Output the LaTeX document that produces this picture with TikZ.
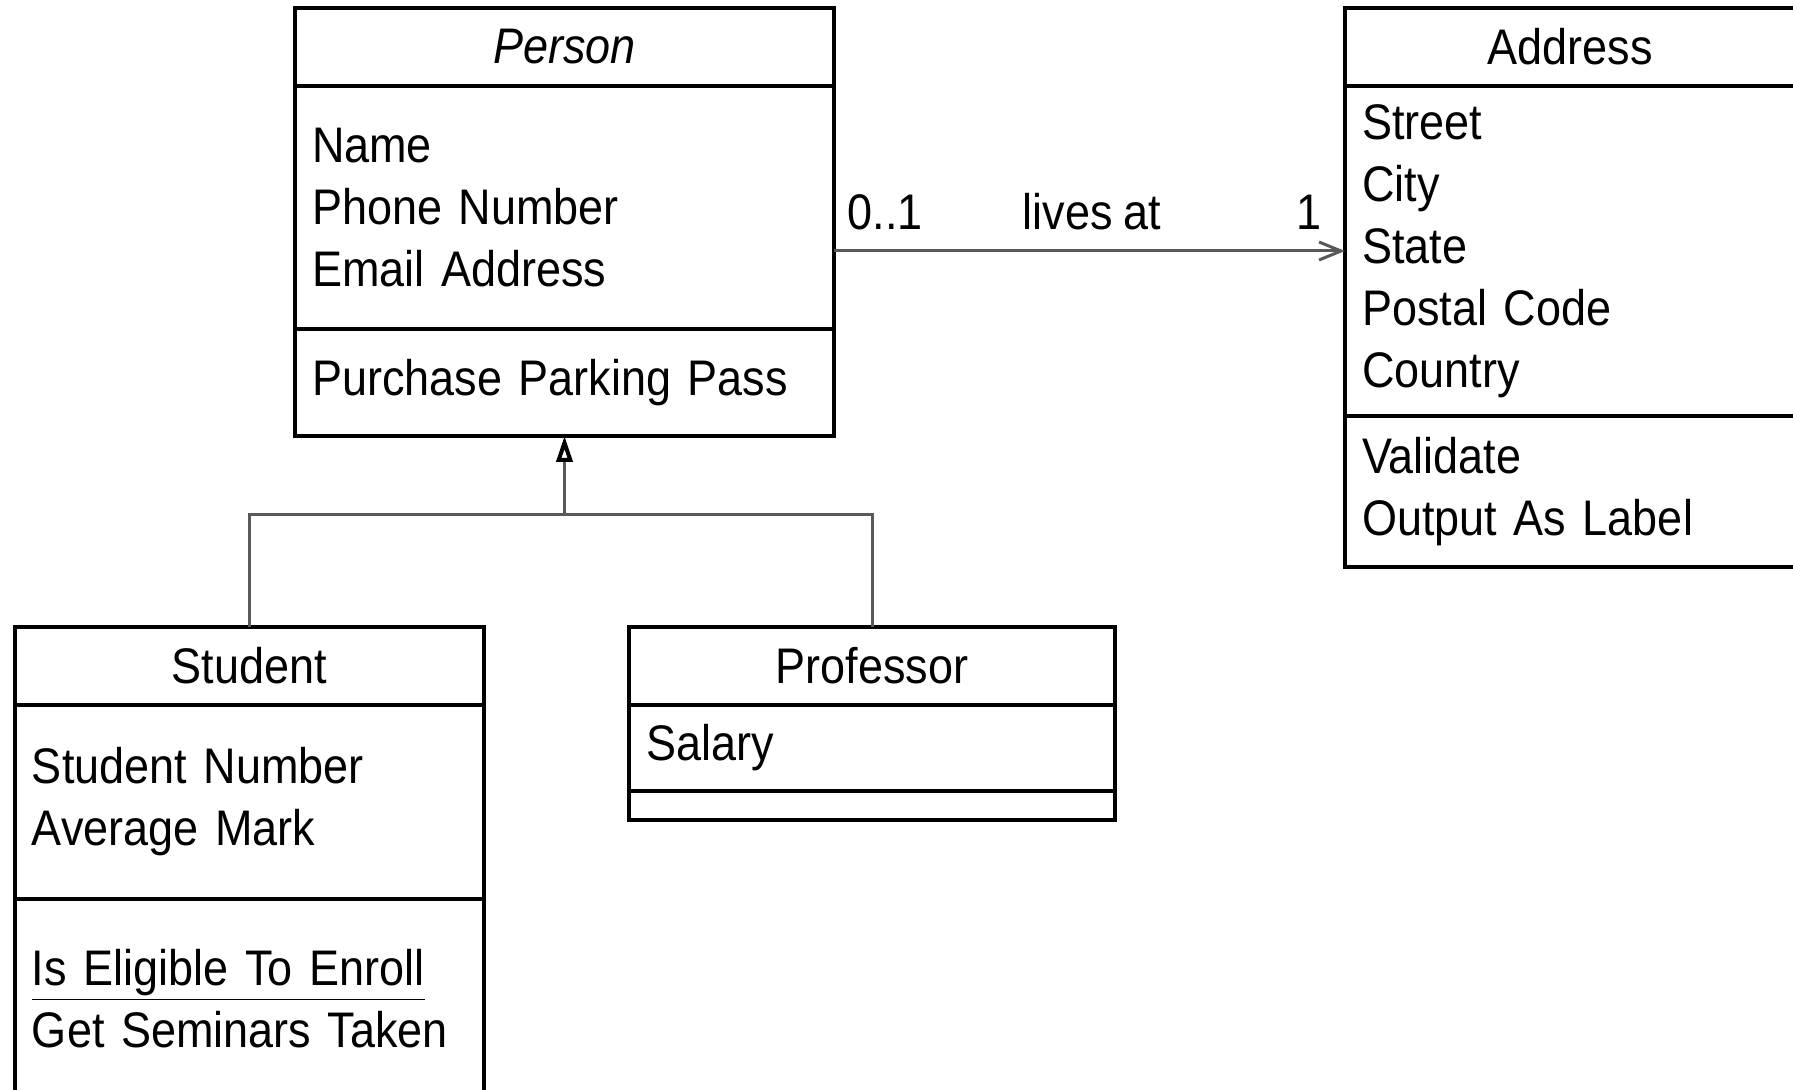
\documentclass[tikz,border=0pt]{standalone}
\usepackage{fontspec}
\setmainfont[FakeStretch=0.9, WordSpace=0.85]{Liberation Sans}
\usepackage{tikz}
\usetikzlibrary{positioning}
\usetikzlibrary{arrows.meta}
\definecolor{linkgray}{gray}{0.35}

\begin{document}
\begin{tikzpicture}[x=0.5pt,y=-0.5pt,
  compart/.style={draw, line width=1.6pt, outer sep=0pt, inner xsep=8.5pt, inner ysep=2pt, font=\fontsize{25}{31}\selectfont},
  ctitle/.style={compart, align=center, minimum height=39pt},
  cbody/.style={compart, align=left},
  person/.style={text width=252.5pt},
  address/.style={text width=208pt},
  student/.style={text width=217.5pt},
  professor/.style={text width=226pt},
  assoc/.style={draw=linkgray, line width=1.5pt, -{Straight Barb[length=11pt, width=9pt]}},
  inherit/.style={draw=linkgray, line width=1.5pt},
  mult/.style={above=10pt, inner sep=0pt, font=\fontsize{25}{31}\selectfont}]
\useasboundingbox (0,0) rectangle (1793,1090);
\clip (0,0) rectangle (1793,1090);

\node[ctitle, person] (person-title) at (564.5,47) {\itshape Person};
\node[cbody, person, minimum height=121.5pt, below=0pt of person-title] (person-attr) {Name\\Phone Number\\Email Address};
\node[cbody, person, minimum height=53.5pt, below=0pt of person-attr] (person-ops) {Purchase Parking Pass};

\node[ctitle, address] (address-title) at (1570,47) {Address};
\node[cbody, address, minimum height=165pt, below=0pt of address-title] (address-attr) {Street\\City\\State\\Postal Code\\Country};
\node[cbody, address, minimum height=75.5pt, below=0pt of address-attr] (address-ops) {Validate\\Output As Label};

\node[ctitle, student] (student-title) at (249.5,666) {Student};
\node[cbody, student, minimum height=97pt, below=0pt of student-title] (student-attr) {Student Number\\Average Mark};
\node[cbody, student, minimum height=100pt, below=0pt of student-attr] (student-ops) {\underline{Is Eligible To Enroll}\\Get Seminars Taken};

\node[ctitle, professor] (professor-title) at (872,666) {Professor};
\node[cbody, professor, minimum height=43pt, below=0pt of professor-title] (professor-attr) {Salary};
\node[cbody, professor, minimum height=14.5pt, below=0pt of professor-attr] (professor-ops) {};

\draw[assoc] (person-attr.east |- address-attr.west) -- (address-attr.west)
  node[mult, pos=0.1] (mult-person) {0..1}
  node[mult, pos=0.505] (role) {lives at}
  node[mult, pos=0.93] (mult-address) {1};

\coordinate[below=39.5pt of person-ops.south] (joint);
\draw[inherit] (student-title.north) |- (joint) -| (professor-title.north);
\draw[inherit, -{Triangle[open, length=13pt, width=8pt, line width=2pt, color=black]}] (joint) -- (person-ops.south);

\end{tikzpicture}
\end{document}
